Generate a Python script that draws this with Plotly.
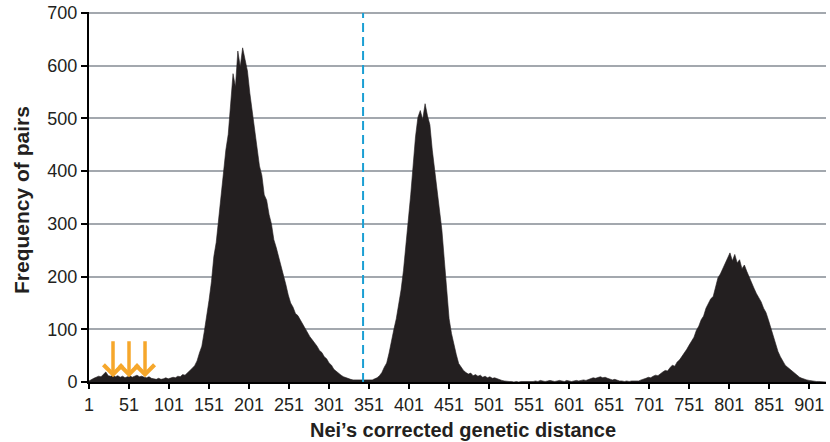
import plotly.graph_objects as go

# Nei's corrected genetic distance (sampled every 3 units) and frequency of pairs
distance = list(range(1, 923, 3))
frequency = [
    2, 5, 7, 9, 11, 10, 15, 19, 12, 11, 13, 10, 12, 9, 11, 8, 10, 12, 9, 11,
    13, 10, 11, 9, 8, 10, 7, 6, 5, 7, 5, 6, 8, 6, 7, 9, 8, 11, 10, 14,
    13, 17, 22, 26, 31, 40, 55, 68, 95, 122, 155, 190, 238, 265, 310, 345, 398, 440, 470, 520,
    585, 560, 628, 598, 634, 612, 590, 548, 515, 478, 445, 410, 392, 355, 345, 318, 300, 270, 255, 238,
    220, 205, 185, 165, 150, 142, 130, 126, 118, 108, 100, 92, 86, 80, 75, 68, 60, 56, 48, 44,
    36, 32, 24, 20, 17, 13, 10, 8, 6, 5, 4, 4, 3, 3, 4, 3, 4, 3, 4, 6,
    8, 12, 18, 28, 36, 55, 80, 100, 120, 145, 175, 212, 258, 300, 355, 410, 465, 502, 515, 498,
    528, 505, 488, 440, 400, 365, 330, 288, 232, 170, 120, 92, 70, 52, 35, 28, 22, 18, 15, 17,
    12, 14, 11, 13, 9, 11, 8, 10, 7, 8, 6, 5, 3, 2, 1, 1, 1, 0, 1, 0,
    1, 1, 0, 1, 0, 1, 2, 1, 3, 2, 1, 2, 3, 2, 1, 2, 3, 2, 1, 3,
    2, 1, 2, 3, 2, 3, 4, 3, 5, 6, 8, 7, 9, 10, 8, 9, 7, 5, 4, 5,
    3, 2, 2, 1, 2, 1, 2, 2, 3, 2, 4, 5, 7, 9, 8, 11, 13, 12, 16, 19,
    22, 21, 27, 32, 30, 38, 42, 48, 55, 62, 70, 78, 85, 98, 106, 118, 125, 140, 150, 158,
    162, 180, 198, 205, 215, 228, 236, 245, 230, 242, 226, 232, 215, 222, 210, 198, 188, 178, 168, 160,
    152, 140, 132, 118, 102, 88, 72, 58, 48, 40, 32, 28, 24, 20, 16, 12, 9, 7, 5, 4,
    3, 2, 2, 1, 1, 1, 0, 0,
]

tick_values = list(range(1, 902, 50))
tick_labels = [str(v) for v in tick_values]
y_ticks = [0, 100, 200, 300, 400, 500, 600, 700]
cutoff_distance = 343.5
arrow_distances = [31, 51, 71]
arrow_top, arrow_tip = 80, 9

FONT = "Arial, Liberation Sans, sans-serif"
INK = "#231f20"

fig = go.Figure()
fig.add_trace(go.Scatter(
    x=distance, y=frequency, mode="lines", fill="tozeroy",
    fillcolor=INK, line=dict(color=INK, width=0.6), hoverinfo="x+y",
    showlegend=False,
))

fig.add_shape(type="line", xref="x", yref="y", x0=cutoff_distance, x1=cutoff_distance,
              y0=0, y1=700, line=dict(color="#1b9fd4", width=2, dash="9px,5px"))

for xd in arrow_distances:
    fig.add_annotation(x=xd, y=arrow_tip, ax=xd, ay=arrow_top, xref="x", yref="y",
                       axref="x", ayref="y", text="", showarrow=True,
                       arrowhead=4, arrowsize=1.05, arrowwidth=3.5, arrowcolor="#f6a72b")

fig.add_annotation(text="<b>Nei’s corrected genetic distance</b>", xref="paper", yref="paper",
                   x=(463 - 89) / 737, y=-(430 - 382) / 370, xanchor="center", yanchor="middle",
                   showarrow=False, font=dict(size=20, family=FONT, color=INK))
fig.add_annotation(text="<b>Frequency of pairs</b>", xref="paper", yref="paper",
                   x=-(89 - 22) / 737, y=(382 - 200) / 370, xanchor="center", yanchor="middle",
                   textangle=-90, showarrow=False, font=dict(size=21, family=FONT, color=INK))

fig.update_layout(
    width=830, height=442,
    margin=dict(l=89, r=4, t=12, b=60),
    paper_bgcolor="white", plot_bgcolor="white",
    font=dict(family=FONT, size=18, color=INK),
    xaxis=dict(
        range=[1, 922], tickmode="array", tickvals=tick_values, ticktext=tick_labels,
        showgrid=False, zeroline=False, showline=True, linecolor="black", linewidth=2,
        ticks="outside", ticklen=5, tickwidth=1.5, tickcolor="black", automargin=False,
        ticklabeloverflow="allow", tickfont=dict(size=18, family=FONT, color=INK),
    ),
    yaxis=dict(
        range=[0, 702], tickmode="array", tickvals=y_ticks,
        ticktext=[str(v) for v in y_ticks],
        showgrid=True, gridcolor="#a3a8ae", gridwidth=1.6, zeroline=False,
        showline=True, linecolor="black", linewidth=2, automargin=False,
        ticklabeloverflow="allow", tickfont=dict(size=18, family=FONT, color=INK),
        ticks="outside", ticklen=6, tickwidth=1.5, tickcolor="black",
    ),
)

fig.write_html("out.html", config={"displayModeBar": False},
               post_script="document.body.style.margin='0';")
